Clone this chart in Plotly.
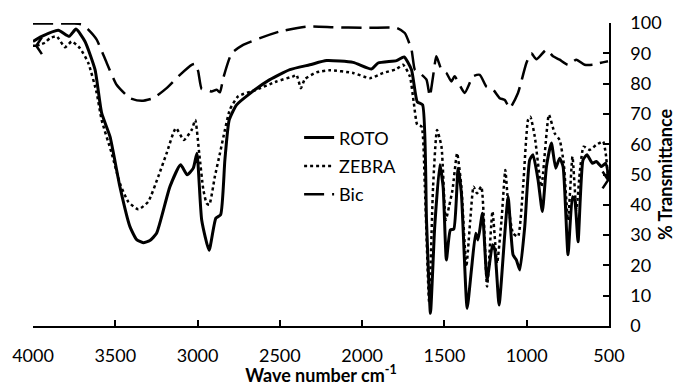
import plotly.graph_objects as go

# ROTO (solid)
roto_w = [4000, 3950, 3846, 3780, 3739, 3684, 3623, 3583, 3532, 3472, 3411, 3370, 3330, 3290, 3249,
          3168, 3103, 3063, 3026, 3004, 2975, 2930, 2889, 2860, 2834, 2808, 2763, 2692, 2561, 2439,
          2318, 2216, 2055, 1943, 1903, 1791, 1745, 1700, 1665, 1633, 1609, 1585, 1559, 1528, 1508,
          1488, 1464, 1443, 1417, 1397, 1362, 1336, 1310, 1296, 1269, 1241, 1208, 1194, 1168, 1133,
          1113, 1083, 1063, 1042, 1012, 982, 962, 931, 905, 880, 850, 824, 800, 779, 749, 722, 708,
          688, 658, 634, 601, 577, 546, 520, 500]
roto_t = [93.9, 95.5, 97.6, 95.6, 98.0, 93.9, 84.6, 70.3, 62.5, 46.0, 32.8, 28.5, 27.5, 28.2, 30.6,
          46.0, 53.2, 49.9, 52.1, 57.0, 35.0, 25.0, 35.6, 36.7, 54.8, 68.0, 73.0, 76.3, 81.3, 84.6,
          86.2, 87.6, 87.0, 84.8, 86.8, 87.6, 88.8, 84.6, 74.0, 73.0, 35.0, 4.2, 32.8, 53.2, 46.0,
          21.8, 31.7, 32.0, 52.1, 43.8, 5.8, 18.5, 30.6, 28.4, 37.2, 15.2, 26.8, 25.1, 6.9, 30.6,
          42.7, 23.5, 21.8, 18.5, 32.8, 54.8, 56.5, 48.2, 37.8, 52.6, 60.4, 52.1, 55.4, 52.6, 23.5, 42.7, 41.6,
          27.8, 54.8, 56.5, 53.7, 54.3, 52.6, 53.7, 48.0]

# ZEBRA (dotted)
zebra_w = [3980, 3927, 3897, 3856, 3806, 3765, 3715, 3664, 3613, 3583, 3522, 3472, 3421, 3360, 3300,
           3239, 3188, 3132, 3083, 3036, 3014, 2990, 2965, 2945, 2929, 2895, 2864, 2834, 2804, 2753,
           2642, 2520, 2419, 2399, 2372, 2348, 2277, 2196, 2055, 1953, 1873, 1791, 1751, 1710, 1686,
           1665, 1639, 1619, 1593, 1569, 1545, 1518, 1492, 1472, 1451, 1423, 1397, 1367, 1343, 1323,
           1302, 1276, 1241, 1208, 1180, 1153, 1130, 1113, 1083, 1053, 1022, 992, 978, 951, 911, 865,
           830, 800, 775, 749, 722, 698, 678, 654, 617, 577, 536, 520, 505]
zebra_t = [92.5, 93.5, 95.0, 95.6, 92.0, 93.9, 91.7, 86.8, 76.9, 68.0, 57.0, 47.1, 41.0, 38.5, 41.0,
           49.3, 57.0, 65.3, 61.4, 64.7, 68.0, 57.0, 45.0, 40.5, 40.0, 49.3, 57.0, 64.7, 71.4, 75.8,
           78.0, 80.7, 82.4, 82.9, 78.5, 81.5, 83.7, 84.4, 83.5, 81.8, 83.5, 84.8, 86.2, 82.4, 73.6,
           66.4, 65.8, 46.0, 8.0, 46.0, 64.7, 59.2, 35.0, 39.4, 44.9, 57.0, 46.0, 19.6, 35.0, 46.0,
           43.8, 46.0, 13.0, 37.8, 20.7, 35.0, 51.5, 40.5, 30.6, 29.5, 46.0, 68.0, 69.1, 62.5, 46.0, 69.7,
           63.6, 61.4, 53.7, 35.0, 55.9, 38.3, 50.4, 59.2, 58.1, 59.8, 60.9, 57.0, 48.2]

# Bic (dashed)
bic_w = [4000, 3750, 3700, 3664, 3613, 3552, 3492, 3411, 3340, 3269, 3188, 3107, 3036, 3012, 2996,
         2975, 2945, 2915, 2884, 2864, 2844, 2793, 2723, 2621, 2500, 2338, 2176, 1994, 1791, 1741,
         1700, 1680, 1650, 1609, 1589, 1569, 1549, 1518, 1488, 1458, 1438, 1377, 1326, 1285, 1245,
         1204, 1164, 1133, 1103, 1053, 1002, 972, 941, 880, 840, 800, 749, 698, 648, 597, 557, 506]
bic_t = [99.8, 99.8, 99.5, 97.8, 94.5, 86.8, 79.6, 75.2, 74.3, 75.2, 78.5, 82.9, 86.2, 86.5, 84.0,
         78.2, 78.0, 77.4, 78.0, 77.1, 81.8, 90.0, 92.8, 95.0, 97.2, 98.8, 98.6, 98.4, 98.4, 96.7,
         91.2, 84.6, 83.5, 81.3, 75.8, 82.4, 89.0, 84.6, 83.5, 80.7, 82.4, 76.9, 82.4, 82.9, 79.0,
         78.0, 75.2, 74.6, 71.9, 76.9, 86.8, 90.0, 88.0, 91.2, 89.0, 87.9, 86.2, 87.9, 86.2, 86.2, 86.8, 87.4]

x_ticks = [4000, 3500, 3000, 2500, 2000, 1500, 1000, 500]
y_ticks = [0, 10, 20, 30, 40, 50, 60, 70, 80, 90, 100]

FONT = "Lato"

fig = go.Figure()
fig.add_trace(go.Scatter(x=roto_w, y=roto_t, name="ROTO", mode="lines", legendgroup="a",
                         line=dict(color="black", width=3, shape="spline", smoothing=0.5)))
fig.add_trace(go.Scatter(x=zebra_w, y=zebra_t, name="ZEBRA", mode="lines", legendgroup="b",
                         line=dict(color="black", width=2.5, dash="dot", shape="spline", smoothing=0.5)))
fig.add_trace(go.Scatter(x=bic_w, y=bic_t, name="Bic", mode="lines", legendgroup="c",
                         line=dict(color="black", width=2.5, dash="20px,8px", shape="spline", smoothing=0.5)))
# arrowheads at the ends of the ZEBRA line
fig.add_trace(go.Scatter(x=[zebra_w[0], zebra_w[-1]], y=[zebra_t[0], zebra_t[-1]], mode="markers",
                         showlegend=False, hoverinfo="skip", legendgroup="b",
                         marker=dict(symbol=["y-left", "y-right"], size=14, color="black",
                                     line=dict(color="black", width=2.5))))

fig.update_layout(
    width=676, height=386,
    margin=dict(l=33, r=67, t=23, b=60),
    paper_bgcolor="white", plot_bgcolor="white",
    font=dict(family=FONT, size=18, color="black"),
    showlegend=True,
    legend=dict(x=0.462, y=0.682, xanchor="left", yanchor="top", tracegroupgap=2,
                bgcolor="rgba(0,0,0,0)", font=dict(family=FONT, size=18)),
)
fig.update_xaxes(range=[4000, 500], tickvals=x_ticks, ticktext=[str(v) for v in x_ticks],
                 automargin=False,
                 showgrid=False, zeroline=False, showline=True, linecolor="black", linewidth=1.5,
                 ticks="inside", ticklen=6, tickwidth=1.5, tickcolor="black",
                 ticklabelstandoff=13,
                 title=dict(text="<b>Wave number cm<sup>-1</sup></b>", font=dict(family=FONT, size=18),
                            standoff=9))
fig.update_yaxes(range=[0, 100], tickvals=y_ticks, side="right", automargin=False,
                 showgrid=False, zeroline=False, showline=True, linecolor="black", linewidth=1.5,
                 ticks="inside", ticklen=6, tickwidth=1.5, tickcolor="black",
                 ticklabelstandoff=16,
                 title=dict(text="<b>% Transmittance</b>", font=dict(family=FONT, size=18), standoff=13))

fig.write_html("out.html")
